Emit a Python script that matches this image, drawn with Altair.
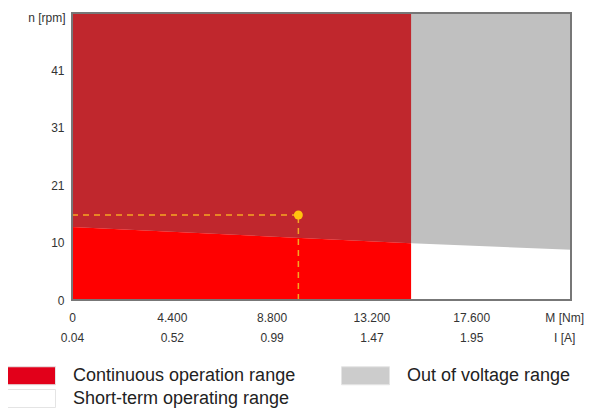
import altair as alt
import pandas as pd

# ---- data ----
torque_ticks = [0, 4.4, 8.8, 13.2, 17.6, 21.7]
torque_labels = ["0", "4.400", "8.800", "13.200", "17.600", "M [Nm]"]
current_labels = ["0.04", "0.52", "0.99", "1.47", "1.95", "I [A]"]

speed_ticks = [0, 10.3, 20.6, 30.9, 41.2]
speed_max = 51.5
torque_max = 22.0

# voltage limit line (n vs M)
boundary_M = [0.0, 14.95, 22.0]
boundary_n = [13.1, 10.2, 9.0]

# continuous range right edge
continuous_M_max = 14.95

# operating point
op_M = [9.98]
op_n = [15.25]

# legend (column-major order: col 1 = first two entries)
legend_names = ["Continuous operation range", "Short-term operating range", "Out of voltage range"]
legend_colors = ["#e2001a", "#ffffff", "#cccccc"]

# ---- tables ----
gray_df = pd.DataFrame({"M": boundary_M, "n": boundary_n, "top": [speed_max] * len(boundary_M)})
cont_df = pd.DataFrame({"M": boundary_M[:2], "n": boundary_n[:2],
                        "top": [speed_max] * 2, "zero": [0.0] * 2})
op_df = pd.DataFrame({"M": op_M, "n": op_n, "zero": [0.0]})
frame_df = pd.DataFrame({"M0": [0.0], "M1": [torque_max], "n0": [0.0], "n1": [speed_max]})
leg_df = pd.DataFrame({"range": legend_names})

font = "Liberation Sans"

label_expr = " : ".join(
    f"datum.value == {v} ? ['{a}', '{b}']" for v, a, b in zip(torque_ticks, torque_labels, current_labels)
) + " : ''"

x_scale = alt.Scale(domain=[0, torque_max], nice=False, zero=False)
y_scale = alt.Scale(domain=[0, speed_max], nice=False, zero=False)

x_axis = alt.Axis(values=torque_ticks, labelExpr=label_expr, title=None, grid=False, ticks=False,
                  domain=False, labelFontSize=12, labelColor="#333333", labelPadding=12,
                  labelLineHeight=20, labelOverlap=False, labelFlush=False, labelBound=False,
                  labelBaseline="top", labelFont=font)
y_axis = alt.Axis(values=speed_ticks, format=".0f", title="n [rpm]", titleAngle=0, titleAlign="right",
                  titleBaseline="middle", titleX=-7, titleY=4, titleFontSize=12, titleFontWeight="normal",
                  titleColor="#333333", titleFont=font, grid=False, ticks=False, domain=False,
                  labelFontSize=12, labelColor="#333333", labelPadding=8, labelOverlap=False,
                  labelFont=font)

gray = alt.Chart(gray_df).mark_area(color="#c0c0c0", opacity=1).encode(
    x=alt.X("M:Q", scale=x_scale, axis=x_axis),
    y=alt.Y("n:Q", scale=y_scale, axis=y_axis),
    y2="top:Q",
)

dark = alt.Chart(cont_df).mark_area(color="#c0272d", opacity=1).encode(
    x=alt.X("M:Q", scale=x_scale),
    y=alt.Y("n:Q", scale=y_scale),
    y2="top:Q",
)

bright = alt.Chart(cont_df).mark_area(color="#ff0000", opacity=1).encode(
    x=alt.X("M:Q", scale=x_scale),
    y=alt.Y("zero:Q", scale=y_scale),
    y2="n:Q",
)

hline = alt.Chart(op_df).mark_rule(color="#f5a623", strokeWidth=1.5, strokeDash=[6, 5]).encode(
    x=alt.X("zero:Q", scale=x_scale),
    x2="M:Q",
    y=alt.Y("n:Q", scale=y_scale),
)
vline = alt.Chart(op_df).mark_rule(color="#f5a623", strokeWidth=1.5, strokeDash=[6, 5]).encode(
    x=alt.X("M:Q", scale=x_scale),
    y=alt.Y("zero:Q", scale=y_scale),
    y2="n:Q",
)
dot = alt.Chart(op_df).mark_circle(color="#ffc20e", size=80, opacity=1).encode(
    x=alt.X("M:Q", scale=x_scale),
    y=alt.Y("n:Q", scale=y_scale),
)

frame = alt.Chart(frame_df).mark_rect(filled=False, stroke="#777777", strokeWidth=2, fillOpacity=0).encode(
    x=alt.X("M0:Q", scale=x_scale),
    x2="M1:Q",
    y=alt.Y("n0:Q", scale=y_scale),
    y2="n1:Q",
)

legend_layer = alt.Chart(leg_df).mark_point(filled=True, opacity=0, size=0).encode(
    x=alt.value(0),
    y=alt.value(0),
    color=alt.Color(
        "range:N",
        scale=alt.Scale(domain=legend_names, range=legend_colors),
        legend=alt.Legend(
            title=None, orient="none", legendX=-51, legendY=352, columns=2,
            columnPadding=43, rowPadding=0,
            symbolType="M-2.4,-0.9L2.4,-0.9L2.4,0.9L-2.4,0.9Z", symbolSize=400,
            symbolOpacity=1, symbolStrokeColor="#e4e4e4", symbolStrokeWidth=1,
            labelFontSize=18, labelColor="#222222", labelOffset=31, labelFont=font,
            labelLimit=400,
        ),
    ),
)

chart = alt.layer(gray, dark, bright, hline, vline, dot, frame, legend_layer).properties(
    width=499, height=287,
    autosize=alt.AutoSizeParams(type="none"),
    padding={"left": 64, "top": 5, "right": 13, "bottom": 111},
).configure_view(
    stroke=None
).configure(font=font)

chart.save("out.html", embed_options={"renderer": "svg", "actions": False})
